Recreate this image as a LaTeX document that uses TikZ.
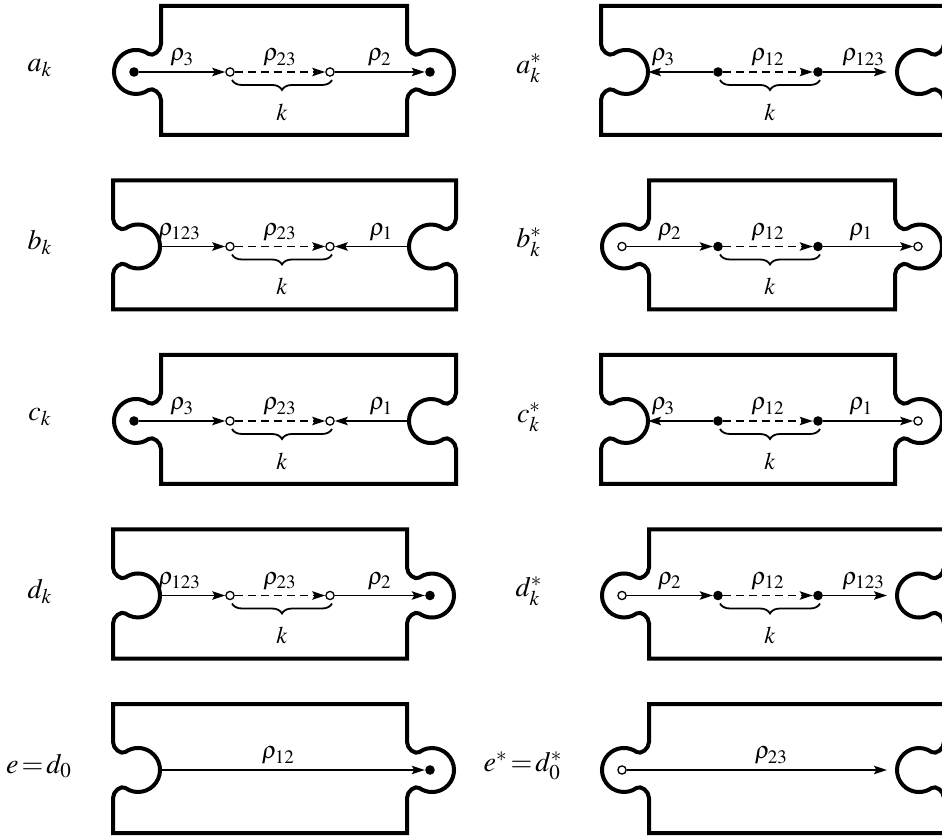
\documentclass[tikz,border=0pt]{standalone}
\usepackage{mathptmx}
\DeclareMathSizes{12}{12}{9.5}{7}
\DeclareMathSizes{14}{14}{10.5}{8}
\usetikzlibrary{arrows.meta,decorations.pathreplacing,calc}
\newcommand{\mypiece}[5]{\draw[piece] (#1,#3+66) -- (#2,#3+66) [#5={#2}{#3}] -- (#2,#3-63) -- (#1,#3-63) [#4={#1}{#3}] -- cycle;}
\begin{document}
\begin{tikzpicture}[x=0.5pt,y=0.5pt,
  piece/.style={line width=2pt, line join=miter},
  arr/.style={line width=0.75pt, -{Stealth[length=6.5pt,width=4.2pt,inset=1.2pt]}},
  darr/.style={arr, dash pattern=on 4pt off 2.5pt},
  odot/.style={circle, draw, line width=0.65pt, fill=white, inner sep=0pt, minimum size=4.1pt},
  fdot/.style={circle, fill=black, inner sep=0pt, minimum size=4.8pt},
  lab/.style={above=1.5pt, inner sep=1pt, font=\fontsize{12}{14}\selectfont},
  kbrace/.style={decorate, decoration={brace, mirror, amplitude=5pt}, line width=0.9pt},
  klab/.style={yshift=-16pt, font=\fontsize{12}{14}\selectfont},
  rowlab/.style={inner sep=0pt, font=\fontsize{14}{16}\selectfont},
  rlobe/.style 2 args={insert path={-- (#1,#2+28) .. controls (#1,#2+21) and (#1+8.3,#2+15.1) .. (#1+12.4,#2+18) arc[start angle=125,end angle=-125,radius=22] .. controls (#1+8.3,#2-15.1) and (#1,#2-21) .. (#1,#2-28)}},
  rsock/.style 2 args={insert path={-- (#1,#2+28) .. controls (#1,#2+21) and (#1-8.3,#2+15.1) .. (#1-12.4,#2+18) arc[start angle=55,end angle=305,radius=22] .. controls (#1-8.3,#2-15.1) and (#1,#2-21) .. (#1,#2-28)}},
  llobe/.style 2 args={insert path={-- (#1,#2-28) .. controls (#1,#2-21) and (#1-8.3,#2-15.1) .. (#1-12.4,#2-18) arc[start angle=-55,end angle=-305,radius=22] .. controls (#1-8.3,#2+15.1) and (#1,#2+21) .. (#1,#2+28)}},
  lsock/.style 2 args={insert path={-- (#1,#2-28) .. controls (#1,#2-21) and (#1+8.3,#2-15.1) .. (#1+12.4,#2-18) arc[start angle=235,end angle=485,radius=22] .. controls (#1+8.3,#2+15.1) and (#1,#2+21) .. (#1,#2+28)}}
]
\useasboundingbox (0,0) rectangle (942,836);
% pieces, left column
\mypiece{161}{407}{764}{llobe}{rlobe}
\mypiece{113}{456}{589.5}{lsock}{rsock}
\mypiece{161}{456}{415}{llobe}{rsock}
\mypiece{113}{407}{240.5}{lsock}{rlobe}
\mypiece{113}{407}{66}{lsock}{rlobe}
% pieces, right column
\mypiece{601}{944}{764}{lsock}{rsock}
\mypiece{649}{895}{589.5}{llobe}{rlobe}
\mypiece{601}{895}{415}{lsock}{rlobe}
\mypiece{649}{944}{240.5}{llobe}{rsock}
\mypiece{649}{944}{66}{llobe}{rsock}
% row labels
\node[rowlab] (la) at (40,768) {$a_k$};
\node[rowlab] (lb) at (40,593.5) {$b_k$};
\node[rowlab] (lc) at (40,419) {$c_k$};
\node[rowlab] (ld) at (40,244.5) {$d_k$};
\node[rowlab] (le) at (39,70) {$e\mkern2mu{=}\mkern2mu d_0$};
\node[rowlab] (las) at (529,768) {$a_k^*$};
\node[rowlab] (lbs) at (529,593.5) {$b_k^*$};
\node[rowlab] (lcs) at (529,419) {$c_k^*$};
\node[rowlab] (lds) at (529,244.5) {$d_k^*$};
\node[rowlab] (les) at (523,70) {$e^*\mkern2mu{=}\mkern2mu d_0^*$};
% row a
\node[fdot] (a1) at (134,764) {};
\node[odot] (a2) at (230,764) {};
\node[odot] (a3) at (330,764) {};
\node[fdot] (a4) at (430,764) {};
\draw[arr] (a1) -- node[lab]{$\rho_3$} (a2);
\draw[darr] (a2) -- node[lab]{$\rho_{23}$} (a3);
\draw[arr] (a3) -- node[lab]{$\rho_2$} (a4);
\draw[kbrace] ([shift={(1pt,-4pt)}]a2.center) -- node[klab]{$k$} ([shift={(1pt,-4pt)}]a3.center);
% row b
\coordinate (b1) at (160,589.5);
\node[odot] (b2) at (230,589.5) {};
\node[odot] (b3) at (330,589.5) {};
\coordinate (b4) at (409,589.5);
\draw[arr] (b1) -- node[lab,xshift=-6.5pt]{$\rho_{123}$} (b2);
\draw[darr] (b2) -- node[lab]{$\rho_{23}$} (b3);
\draw[arr] (b4) -- node[lab,xshift=4.75pt]{$\rho_1$} (b3);
\draw[kbrace] ([shift={(1pt,-4pt)}]b2.center) -- node[klab]{$k$} ([shift={(1pt,-4pt)}]b3.center);
% row c
\node[fdot] (c1) at (134,415) {};
\node[odot] (c2) at (230,415) {};
\node[odot] (c3) at (330,415) {};
\coordinate (c4) at (409,415);
\draw[arr] (c1) -- node[lab]{$\rho_3$} (c2);
\draw[darr] (c2) -- node[lab]{$\rho_{23}$} (c3);
\draw[arr] (c4) -- node[lab,xshift=4.75pt]{$\rho_1$} (c3);
\draw[kbrace] ([shift={(1pt,-4pt)}]c2.center) -- node[klab]{$k$} ([shift={(1pt,-4pt)}]c3.center);
% row d
\coordinate (d1) at (160,240.5);
\node[odot] (d2) at (230,240.5) {};
\node[odot] (d3) at (330,240.5) {};
\node[fdot] (d4) at (430,240.5) {};
\draw[arr] (d1) -- node[lab,xshift=-6.5pt]{$\rho_{123}$} (d2);
\draw[darr] (d2) -- node[lab]{$\rho_{23}$} (d3);
\draw[arr] (d3) -- node[lab]{$\rho_2$} (d4);
\draw[kbrace] ([shift={(1pt,-4pt)}]d2.center) -- node[klab]{$k$} ([shift={(1pt,-4pt)}]d3.center);
% row e
\coordinate (e1) at (160,66);
\node[fdot] (e2) at (430,66) {};
\draw[arr] (e1) -- node[lab,xshift=-7pt]{$\rho_{12}$} (e2);
% row a*
\coordinate (as1) at (648,764);
\node[fdot] (as2) at (718,764) {};
\node[fdot] (as3) at (818,764) {};
\coordinate (as4) at (887,764);
\draw[arr] (as2) -- node[lab,xshift=-8.5pt]{$\rho_3$} (as1);
\draw[darr] (as2) -- node[lab]{$\rho_{12}$} (as3);
\draw[arr] (as3) -- node[lab,xshift=4.25pt]{$\rho_{123}$} (as4);
\draw[kbrace] ([shift={(1pt,-4pt)}]as2.center) -- node[klab]{$k$} ([shift={(1pt,-4pt)}]as3.center);
% row b*
\node[odot] (bs1) at (622,589.5) {};
\node[fdot] (bs2) at (718,589.5) {};
\node[fdot] (bs3) at (818,589.5) {};
\node[odot] (bs4) at (918,589.5) {};
\draw[arr] (bs1) -- node[lab]{$\rho_2$} (bs2);
\draw[darr] (bs2) -- node[lab]{$\rho_{12}$} (bs3);
\draw[arr] (bs3) -- node[lab,xshift=-3.5pt]{$\rho_1$} (bs4);
\draw[kbrace] ([shift={(1pt,-4pt)}]bs2.center) -- node[klab]{$k$} ([shift={(1pt,-4pt)}]bs3.center);
% row c*
\coordinate (cs1) at (648,415);
\node[fdot] (cs2) at (718,415) {};
\node[fdot] (cs3) at (818,415) {};
\node[odot] (cs4) at (918,415) {};
\draw[arr] (cs2) -- node[lab,xshift=-8.5pt]{$\rho_3$} (cs1);
\draw[darr] (cs2) -- node[lab]{$\rho_{12}$} (cs3);
\draw[arr] (cs3) -- node[lab,xshift=-3.5pt]{$\rho_1$} (cs4);
\draw[kbrace] ([shift={(1pt,-4pt)}]cs2.center) -- node[klab]{$k$} ([shift={(1pt,-4pt)}]cs3.center);
% row d*
\node[odot] (ds1) at (622,240.5) {};
\node[fdot] (ds2) at (718,240.5) {};
\node[fdot] (ds3) at (818,240.5) {};
\coordinate (ds4) at (887,240.5);
\draw[arr] (ds1) -- node[lab]{$\rho_2$} (ds2);
\draw[darr] (ds2) -- node[lab]{$\rho_{12}$} (ds3);
\draw[arr] (ds3) -- node[lab,xshift=4.25pt]{$\rho_{123}$} (ds4);
\draw[kbrace] ([shift={(1pt,-4pt)}]ds2.center) -- node[klab]{$k$} ([shift={(1pt,-4pt)}]ds3.center);
% row e*
\node[odot] (es1) at (622,66) {};
\coordinate (es2) at (887,66);
\draw[arr] (es1) -- node[lab,xshift=7.25pt]{$\rho_{23}$} (es2);
\end{tikzpicture}
\end{document}
